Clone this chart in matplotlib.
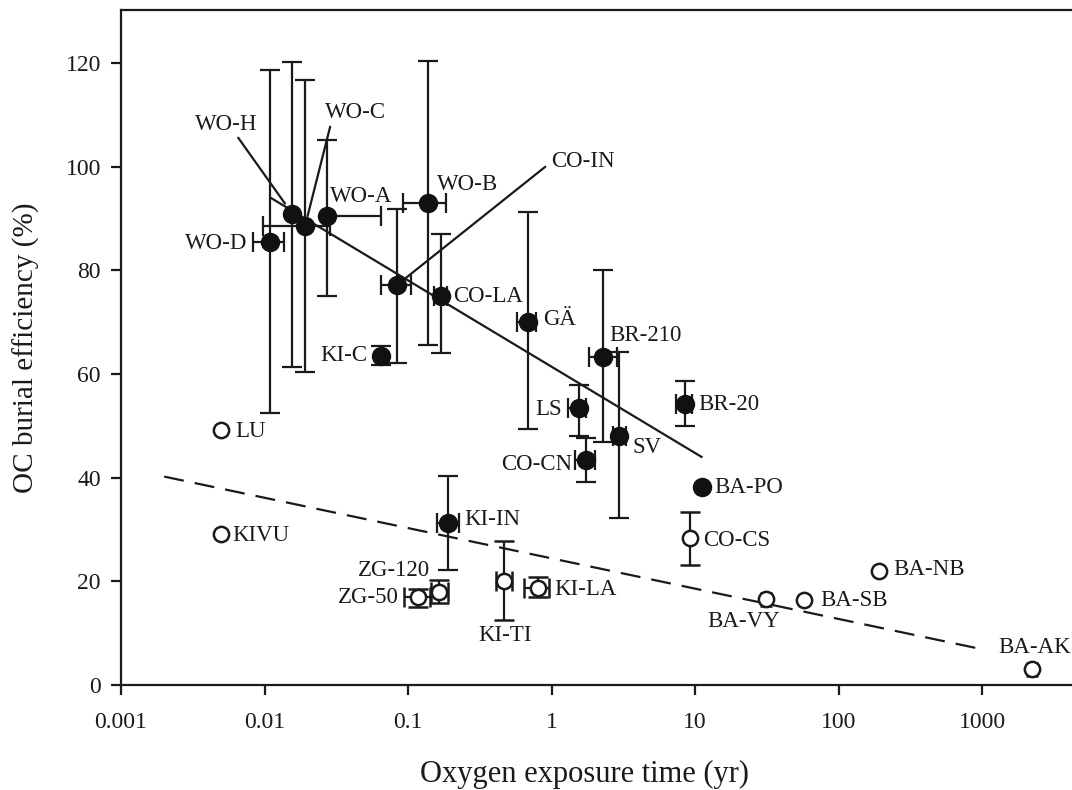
import numpy as np
import matplotlib
matplotlib.use('Agg')
import matplotlib.pyplot as plt

plt.rcParams['font.family'] = ['Liberation Serif', 'DejaVu Serif']

# site data
names = ['WO-D', 'WO-H', 'WO-C', 'WO-A', 'WO-B', 'CO-IN', 'CO-LA', 'KI-C',
         'GÄ', 'BR-210', 'SV', 'LS', 'CO-CN', 'BR-20', 'BA-PO', 'KI-IN',
         'LU', 'KIVU', 'ZG-120', 'ZG-50', 'KI-TI', 'KI-LA', 'CO-CS',
         'BA-NB', 'BA-SB', 'BA-VY', 'BA-AK']
oet = [0.0110, 0.0156, 0.0192, 0.0271, 0.1386, 0.0842, 0.169, 0.0649,
       0.683, 2.30, 2.97, 1.555, 1.74, 8.51, 11.13, 0.191,
       0.005, 0.005, 0.1645, 0.118, 0.467, 0.80, 9.23,
       191.5, 57.8, 31.1, 2218]
be = [85.4, 90.9, 88.6, 90.4, 92.9, 77.2, 75.1, 63.5,
      70.1, 63.3, 48.1, 53.4, 43.4, 54.2, 38.1, 31.3,
      49.1, 29.1, 18.0, 16.9, 20.1, 18.7, 28.3,
      22.0, 16.4, 16.5, 3.0]
be_lo = [52.4, 61.3, 60.3, 75.1, 65.6, 62.1, 64.0, 61.8,
         49.4, 46.8, 32.2, 48.1, 39.2, 49.9, 37.0, 22.2,
         np.nan, np.nan, 15.9, 15.1, 12.5, 17.0, 23.2,
         np.nan, np.nan, 15.3, 1.8]
be_hi = [118.6, 120.2, 116.7, 105.1, 120.3, 91.8, 86.9, 65.3,
         91.2, 80.0, 64.2, 57.9, 47.7, 58.7, 39.2, 40.3,
         np.nan, np.nan, 20.3, 18.6, 27.7, 20.9, 33.3,
         np.nan, np.nan, 17.7, 4.2]
oet_lo = [0.0083, np.nan, 0.0098, 0.0271, 0.0918, 0.0646, 0.152, np.nan,
          0.575, 1.82, 2.69, 1.31, 1.45, 7.4, np.nan, 0.160,
          np.nan, np.nan, 0.144, 0.094, 0.41, 0.64, np.nan,
          np.nan, np.nan, np.nan, np.nan]
oet_hi = [0.0137, np.nan, 0.0286, 0.0646, 0.183, 0.1044, 0.186, np.nan,
          0.785, 2.85, 3.30, 1.75, 2.0, 9.5, np.nan, 0.227,
          np.nan, np.nan, 0.191, 0.142, 0.53, 0.96, np.nan,
          np.nan, np.nan, np.nan, np.nan]
filled = [True] * 16 + [False] * 11

# regression lines
fit1_x = [0.011, 11.1]
fit1_y = [94.0, 44.0]
fit2_x = [0.002, 1000]
fit2_y = [40.2, 6.9]

xticks = [0.001, 0.01, 0.1, 1, 10, 100, 1000]
xtick_labels = ['0.001', '0.01', '0.1', '1', '10', '100', '1000']
yticks = [0, 20, 40, 60, 80, 100, 120]

# label placement: (dx, dy) in pixels, horizontal alignment
label_pos = {
    'WO-D': (-23, -1, 'right'), 'WO-H': (-66, 89, 'center'),
    'WO-C': (50, 113, 'center'), 'WO-A': (35, 20, 'center'),
    'WO-B': (9, 19, 'left'), 'CO-IN': (154, 123, 'left'),
    'CO-LA': (12, -1, 'left'), 'KI-C': (-14, 0, 'right'),
    'GÄ': (15, 2, 'left'), 'BR-210': (6, 21, 'left'),
    'SV': (13, -12, 'left'), 'LS': (-17, -1, 'right'),
    'CO-CN': (-14, -4, 'right'), 'BR-20': (13, 0, 'left'),
    'BA-PO': (13, 0, 'left'), 'KI-IN': (16, 3, 'left'),
    'LU': (14, -1, 'left'), 'KIVU': (11, -1, 'left'),
    'ZG-120': (-9, 21, 'right'), 'ZG-50': (-20, 0, 'right'),
    'KI-TI': (1, -55, 'center'), 'KI-LA': (17, -1, 'left'),
    'CO-CS': (13, -2, 'left'), 'BA-NB': (14, 1, 'left'),
    'BA-SB': (16, -1, 'left'), 'BA-VY': (-22, -22, 'center'),
    'BA-AK': (3, 22, 'center'),
}
# leader lines: start offset (pixels) and gap at the point (points)
leaders = {'WO-H': (-54, 76, 9), 'WO-C': (25, 99, 7), 'CO-IN': (148, 118, 0)}
small_caps = ['BA-PO', 'BA-VY', 'BA-AK']

fig = plt.figure(figsize=(10.72, 7.9), dpi=100)
ax = fig.add_axes([121 / 1072, 105 / 790, 951 / 1072, 675 / 790])

ax.plot(fit1_x, fit1_y, color='#1a1a1a', lw=1.6, zorder=2)
ax.plot(fit2_x, fit2_y, color='#1a1a1a', lw=1.6, ls=(0, (9, 5)), zorder=2)

for i in range(len(names)):
    yerr = None
    xerr = None
    if not np.isnan(be_lo[i]):
        yerr = [[be[i] - be_lo[i]], [be_hi[i] - be[i]]]
    if not np.isnan(oet_lo[i]):
        xerr = [[oet[i] - oet_lo[i]], [oet_hi[i] - oet[i]]]
    cap = 4 if names[i] in small_caps else 7.5
    if filled[i]:
        ax.errorbar(oet[i], be[i], yerr=yerr, xerr=xerr, fmt='o', ms=13,
                    mfc='#111111', mec='#111111', ecolor='#1a1a1a',
                    elinewidth=1.6, capsize=cap, capthick=1.6, zorder=3)
    else:
        ax.errorbar(oet[i], be[i], yerr=yerr, xerr=xerr, fmt='o', ms=11,
                    mfc='white', mec='#1a1a1a', mew=1.8, ecolor='#1a1a1a',
                    elinewidth=1.6, capsize=cap, capthick=1.6, zorder=3)

for n, x, y in zip(names, oet, be):
    dx, dy, ha = label_pos[n]
    ax.annotate(n, (x, y), xytext=(dx, dy), textcoords='offset pixels',
                ha=ha, va='center', fontsize=16.5, color='#1a1a1a', zorder=5)
    if n in leaders:
        lx, ly, gap = leaders[n]
        ax.annotate('', (x, y), xytext=(lx, ly), textcoords='offset pixels',
                    arrowprops=dict(arrowstyle='-', color='#1a1a1a', lw=1.6,
                                    shrinkA=0, shrinkB=gap), zorder=2)

ax.set_xscale('log')
ax.set_xlim(0.001, 4236)
ax.set_ylim(0, 130.2)
ax.set_xticks(xticks)
ax.set_xticklabels(xtick_labels)
ax.minorticks_off()
ax.set_yticks(yticks)

for s in ['left', 'bottom', 'top']:
    ax.spines[s].set_linewidth(1.6)
    ax.spines[s].set_color('#1a1a1a')
ax.spines['right'].set_visible(False)
ax.tick_params(axis='both', direction='out', length=7.5, width=1.6,
               colors='#1a1a1a', labelsize=17)
ax.tick_params(axis='x', pad=12)
ax.tick_params(axis='y', pad=7)

ax.set_xlabel('Oxygen exposure time (yr)', fontsize=22, color='#1a1a1a')
ax.xaxis.set_label_coords(0.487, -0.111)
ax.set_ylabel('OC burial efficiency (%)', fontsize=21, color='#1a1a1a')
ax.yaxis.set_label_coords(-0.085, 0.5)

fig.savefig('out.png', dpi=100)
